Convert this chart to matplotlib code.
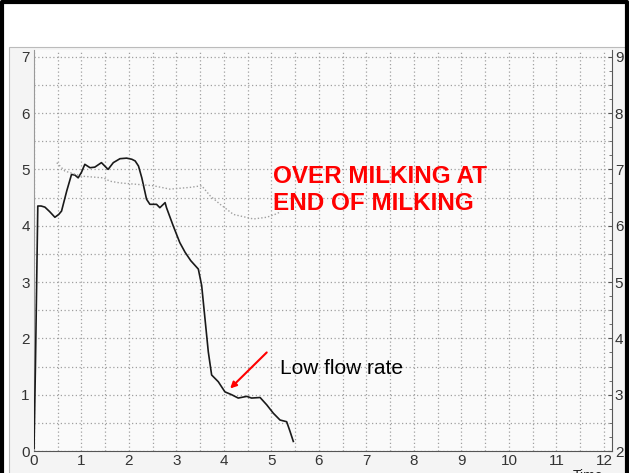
import matplotlib
matplotlib.use("Agg")
import matplotlib.pyplot as plt
from matplotlib.patches import Rectangle
from matplotlib.lines import Line2D
import numpy as np

plt.rcParams['font.family'] = ['Liberation Sans', 'DejaVu Sans']

# milk flow (left axis, kg/min) vs time (min)
flow_t = [0.0, 0.03, 0.08, 0.15, 0.23, 0.33, 0.44, 0.52, 0.58, 0.69, 0.79, 0.86,
          0.93, 1.0, 1.07, 1.18, 1.28, 1.42, 1.56, 1.67, 1.81, 1.95, 2.06, 2.13,
          2.2, 2.27, 2.37, 2.44, 2.58, 2.65, 2.76, 2.79, 2.93, 3.07, 3.18, 3.3,
          3.46, 3.53, 3.6, 3.67, 3.74, 3.88, 4.02, 4.16, 4.3, 4.48, 4.58, 4.76,
          4.9, 5.04, 5.18, 5.32, 5.39, 5.46]
flow = [0.05, 1.5, 4.35, 4.35, 4.33, 4.25, 4.15, 4.2, 4.26, 4.62, 4.91, 4.9,
        4.85, 4.95, 5.09, 5.03, 5.04, 5.12, 5.0, 5.12, 5.19, 5.2, 5.18, 5.15,
        5.06, 4.85, 4.47, 4.38, 4.38, 4.32, 4.41, 4.32, 4.0, 3.7, 3.53, 3.38,
        3.23, 2.94, 2.35, 1.76, 1.35, 1.23, 1.05, 1.0, 0.94, 0.97, 0.94, 0.95,
        0.82, 0.67, 0.55, 0.52, 0.35, 0.17]

# second trace (dotted, right axis)
vac_t = [0.48, 0.65, 1.0, 1.46, 1.6, 1.81, 2.23, 2.51, 2.86, 3.28, 3.53, 3.71,
         3.92, 4.2, 4.62, 4.9, 5.07, 5.2]
vac = [7.12, 6.97, 6.88, 6.85, 6.79, 6.76, 6.73, 6.71, 6.65, 6.68, 6.71, 6.53,
       6.38, 6.2, 6.12, 6.15, 6.2, 6.25]

x_ticks = list(range(0, 13))
left_ticks = list(range(0, 8))
right_ticks = list(range(2, 10))

fig = plt.figure(figsize=(6.29, 4.73), dpi=100)
W, H = 629, 473

# grey panel of the screenshot + black frame (top, left, right)
fig.patches.append(Rectangle((9 / W, -0.01), 617 / W, 1.01 - 47 / H, transform=fig.transFigure,
                             facecolor='#f4f4f4', edgecolor='#bbbbbb', lw=0.8, zorder=-5))
fig.lines.append(Line2D([0.003, 0.003, 0.997, 0.997], [0, 0.996, 0.996, 0],
                        transform=fig.transFigure, color='black', lw=3, zorder=10))

ax = fig.add_axes([34 / W, 22 / H, 578 / W, 401 / H])
ax.set_facecolor('#fafafa')
ax.set_xlim(0, 12.17)
ax.set_ylim(0, 7.12)

ax.set_xticks(np.arange(0, 12.01, 0.5), minor=True)
ax.set_yticks(np.arange(0, 7.01, 0.5), minor=True)
ax.set_xticks(x_ticks)
ax.set_yticks(left_ticks)
ax.grid(which='both', color='#a0a0a0', linestyle=(0, (1, 2)), linewidth=0.9)
ax.tick_params(which='both', length=0, labelsize=11, labelcolor='#333333', pad=3)
ax.tick_params(axis='x', pad=2)

ax.spines['top'].set_visible(False)
ax.spines['left'].set_color('#999999')
ax.spines['bottom'].set_color('#555555')
ax.spines['right'].set_visible(False)

ax.plot(flow_t, flow, color='#1a1a1a', linewidth=1.2, zorder=3)

ax2 = ax.twinx()
ax2.set_ylim(2, 9.12)
ax2.set_yticks(right_ticks)
ax2.set_yticks(np.arange(2, 9.01, 0.25), minor=True)
ax2.tick_params(which='major', direction='in', length=3, labelsize=11,
                labelcolor='#333333', color='#555555', pad=2)
ax2.tick_params(which='minor', direction='in', length=2, color='#555555')
ax2.spines['right'].set_color('#555555')
for s in ['top', 'left', 'bottom']:
    ax2.spines[s].set_visible(False)
ax2.plot(vac_t, vac, color='#a0a0a0', linestyle=(0, (1, 1.5)), linewidth=1.0)

ax.text(5.03, 5.08, 'OVER MILKING AT\nEND OF MILKING', color='red', fontsize=17.5,
        fontweight='bold', va='top', ha='left', linespacing=1.22, zorder=5)
ax.text(5.17, 1.47, 'Low flow rate', color='black', fontsize=15, va='center',
        ha='left', zorder=5)
ax.annotate('', xy=(4.13, 1.11), xytext=(4.9, 1.75),
            arrowprops=dict(arrowstyle='-|>', color='red', lw=1.5,
                            mutation_scale=9, shrinkA=0, shrinkB=0))

fig.text(573 / W, 1 - 469 / H, 'Time', fontsize=10, color='#222222',
         va='top', ha='left')

fig.savefig('out.png', dpi=100)
